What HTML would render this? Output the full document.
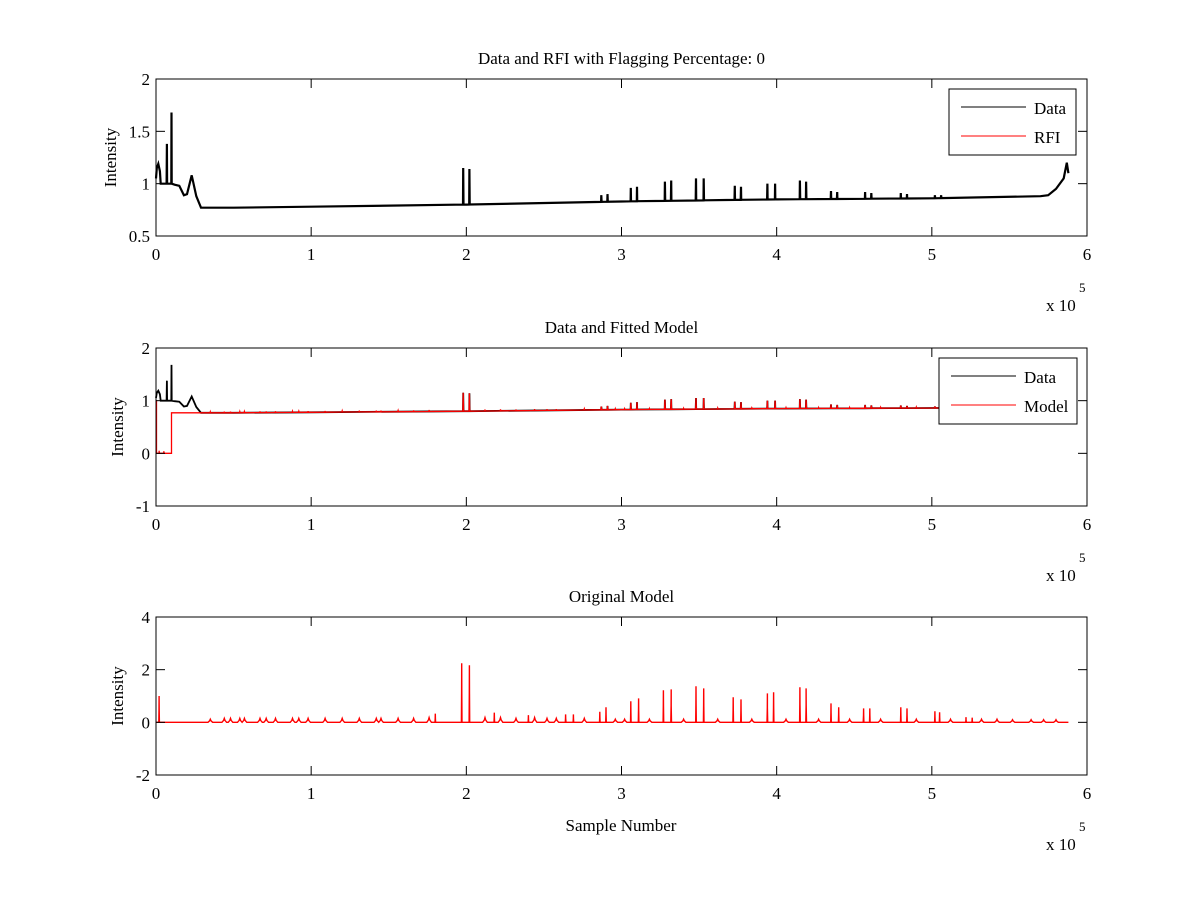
<!DOCTYPE html>
<html><head><meta charset="utf-8"><style>
body{margin:0;background:#fff}
svg{display:block}
text{font-family:"Liberation Serif",serif;font-size:17px;fill:#000}
</style></head><body>
<svg id="fig" width="1200" height="900"></svg>
<script>
// ---- data arrays (sample number in units of 1e5) ----
const baseX = [0,0.005,0.015,0.025,0.03,0.1,0.12,0.15,0.18,0.2,0.23,0.26,0.29,0.5,1,2,3,4,5,5.7,5.75,5.8,5.85,5.87,5.88];
const baseY = [1.05,1.15,1.19,1.12,1.0,1.0,0.99,0.98,0.89,0.9,1.08,0.88,0.77,0.77,0.78,0.80,0.83,0.85,0.86,0.88,0.89,0.95,1.05,1.2,1.1];
const spikeX = [0.07,0.10,1.98,2.02,2.87,2.91,3.06,3.10,3.28,3.32,3.48,3.53,3.73,3.77,3.94,3.99,4.15,4.19,4.35,4.39,4.57,4.61,4.80,4.84,5.02,5.06];
const spikeY = [1.38,1.68,1.15,1.14,0.89,0.90,0.96,0.97,1.02,1.03,1.05,1.05,0.98,0.97,1.0,1.0,1.03,1.02,0.93,0.92,0.92,0.91,0.91,0.90,0.89,0.89];
const modelPkX = [0.02,1.80,1.97,2.02,2.18,2.40,2.64,2.69,2.86,2.90,3.06,3.11,3.27,3.32,3.48,3.53,3.72,3.77,3.94,3.98,4.15,4.19,4.35,4.40,4.56,4.60,4.80,4.84,5.02,5.05,5.22,5.26];
const modelPkY = [1.0,0.33,2.24,2.17,0.37,0.27,0.3,0.3,0.4,0.57,0.8,0.91,1.22,1.25,1.37,1.29,0.95,0.87,1.1,1.14,1.33,1.29,0.72,0.57,0.53,0.53,0.57,0.53,0.42,0.38,0.2,0.18];
const bumpX = [0.35,0.44,0.48,0.54,0.57,0.67,0.71,0.77,0.88,0.92,0.98,1.09,1.20,1.31,1.42,1.45,1.56,1.66,1.76,2.12,2.22,2.32,2.44,2.52,2.58,2.76,2.96,3.02,3.18,3.40,3.62,3.84,4.06,4.27,4.47,4.67,4.90,5.12,5.32,5.42,5.52,5.64,5.72,5.80];
const bumpY = [0.12,0.15,0.15,0.15,0.15,0.15,0.15,0.15,0.15,0.15,0.15,0.15,0.15,0.15,0.15,0.15,0.15,0.15,0.18,0.18,0.18,0.15,0.18,0.15,0.15,0.15,0.12,0.12,0.12,0.12,0.12,0.12,0.12,0.12,0.12,0.12,0.12,0.12,0.12,0.12,0.1,0.1,0.1,0.1];
const xTicks = [0,1,2,3,4,5,6];
const yTicks1 = [0.5,1,1.5,2], yTicks2 = [-1,0,1,2], yTicks3 = [-2,0,2,4];

const NS="http://www.w3.org/2000/svg";
const svg=document.getElementById('fig');
function mk(tag,attrs,parent,txt){const e=document.createElementNS(NS,tag);for(const k in attrs)e.setAttribute(k,attrs[k]);if(txt!==undefined)e.textContent=txt;(parent||svg).appendChild(e);return e;}
const X0=156,X1=1087;
const sx=v=>X0+(v/6)*(X1-X0);
function baseAt(x){for(let i=1;i<baseX.length;i++){if(x<=baseX[i]){const t=(x-baseX[i-1])/(baseX[i]-baseX[i-1]);return baseY[i-1]+t*(baseY[i]-baseY[i-1]);}}return baseY[baseY.length-1];}

function axes(name,top,bot,ymin,ymax,yt,title){
  const g=mk('g',{},svg);
  
  const sy=v=>bot-(v-ymin)/(ymax-ymin)*(bot-top);
  return {g,sy,top,bot,yt,title};
}
function frame(a){
  const g=a.g;
  mk('rect',{x:X0,y:a.top,width:X1-X0,height:a.bot-a.top,fill:'none',stroke:'#000','stroke-width':1},g);
  xTicks.forEach(t=>{const x=sx(t);
    mk('line',{x1:x,y1:a.bot,x2:x,y2:a.bot-9,stroke:'#000'},g);
    mk('line',{x1:x,y1:a.top,x2:x,y2:a.top+9,stroke:'#000'},g);
    const l=mk('text',{x:x,y:a.bot+24,'text-anchor':'middle'},g,String(t));
    });
  a.yt.forEach(t=>{const y=a.sy(t);
    mk('line',{x1:X0,y1:y,x2:X0+9,y2:y,stroke:'#000'},g);
    mk('line',{x1:X1,y1:y,x2:X1-9,y2:y,stroke:'#000'},g);
    const l=mk('text',{x:X0-6,y:y+6,'text-anchor':'end'},g,String(t));
    });
  const tt=mk('text',{x:(X0+X1)/2,y:a.top-15,'text-anchor':'middle'},g,a.title);
  
  const yl=mk('text',{x:0,y:0,'text-anchor':'middle',transform:`translate(${a.top<300?116:123},${(a.top+a.bot)/2}) rotate(-90)`},g,'Intensity');
  
  const ex=mk('text',{x:1046,y:a.bot+75},g,'x 10');
  
  mk('text',{x:1079,y:a.bot+56,style:'font-size:13px'},g,'5');
}
function dataPath(sy){
  let pts=[];const xs=new Set(baseX);
  spikeX.forEach(s=>{xs.add(s-0.0015);xs.add(s);xs.add(s+0.0015);});
  const arr=[...xs].filter(v=>v>=0&&v<=5.88).sort((a,b)=>a-b);
  arr.forEach(x=>{let y=baseAt(x);const i=spikeX.indexOf(x);if(i>=0)y=spikeY[i];pts.push(sx(x).toFixed(1)+','+sy(y).toFixed(1));});
  return 'M'+pts.join('L');
}
function modelPath(sy){
  let pts=[];const ev=[];
  spikeX.forEach((s,i)=>{if(s>0.11)ev.push([s,spikeY[i]-baseAt(s)]);});
  bumpX.forEach((s,i)=>ev.push([s,bumpY[i]*0.15]));
  ev.sort((a,b)=>a[0]-b[0]);
  pts.push([0,1.0],[0.003,1.0],[0.003,0],[0.02,0],[0.02,0.05],[0.022,0],[0.05,0],[0.05,0.04],[0.052,0],[0.1,0],[0.1,baseAt(0.3)]);
  const bx=v=>v<0.3?baseAt(0.3):baseAt(v);
  ev.forEach(([s,h])=>{pts.push([s-0.002,bx(s-0.002)],[s,bx(s)+h],[s+0.002,bx(s+0.002)]);});
  pts.push([5.88,0.87]);
  return 'M'+pts.map(p=>sx(p[0]).toFixed(1)+','+sy(p[1]).toFixed(1)).join('L');
}
function origPath(sy){
  const ev=[];
  modelPkX.forEach((s,i)=>ev.push([s,modelPkY[i],0.002]));
  bumpX.forEach((s,i)=>ev.push([s,bumpY[i],0.015]));
  ev.sort((a,b)=>a[0]-b[0]);
  let pts=[[0,0]];
  ev.forEach(([s,h,w])=>{pts.push([s-w,0],[s-w*0.3,h*0.5],[s,h],[s+w*0.3,h*0.5],[s+w,0]);});
  pts.push([5.88,0]);
  return 'M'+pts.map(p=>sx(p[0]).toFixed(1)+','+sy(p[1]).toFixed(1)).join('L');
}
function legend(g,x,y,w,h,labels,colors){
  const lg=mk('g',{},g);
  
  mk('rect',{x,y,width:w,height:h,fill:'#fff',stroke:'#000'},lg);
  labels.forEach((l,i)=>{const yy=y+18+i*29;
    const e=mk('g',{},lg);
    
    mk('line',{x1:x+12,y1:yy,x2:x+77,y2:yy,stroke:colors[i]},e);
    mk('text',{x:x+85,y:yy+7},e,l);});
}

// plot 1
const a1=axes('top-axes',79,236,0.5,2,yTicks1,'Data and RFI with Flagging Percentage: 0');
const p1=mk('path',{d:dataPath(a1.sy),fill:'none',stroke:'#000','stroke-width':2.2},a1.g);

frame(a1);
legend(a1.g,949,89,127,66,['Data','RFI'],['#000','#f00']);

// plot 2
const a2=axes('middle-axes',348,506,-1,2,yTicks2,'Data and Fitted Model');
const p2=mk('path',{d:dataPath(a2.sy),fill:'none',stroke:'#000','stroke-width':1.8},a2.g);

const m2=mk('path',{d:modelPath(a2.sy),fill:'none',stroke:'#f00','stroke-width':1.3},a2.g);

frame(a2);
legend(a2.g,939,358,138,66,['Data','Model'],['#000','#f00']);

// plot 3
const a3=axes('bottom-axes',617,775,-2,4,yTicks3,'Original Model');
const m3=mk('path',{d:origPath(a3.sy),fill:'none',stroke:'#f00','stroke-width':1.4},a3.g);

frame(a3);
const xl=mk('text',{x:621,y:831,'text-anchor':'middle'},a3.g,'Sample Number');

</script>
</body></html>
